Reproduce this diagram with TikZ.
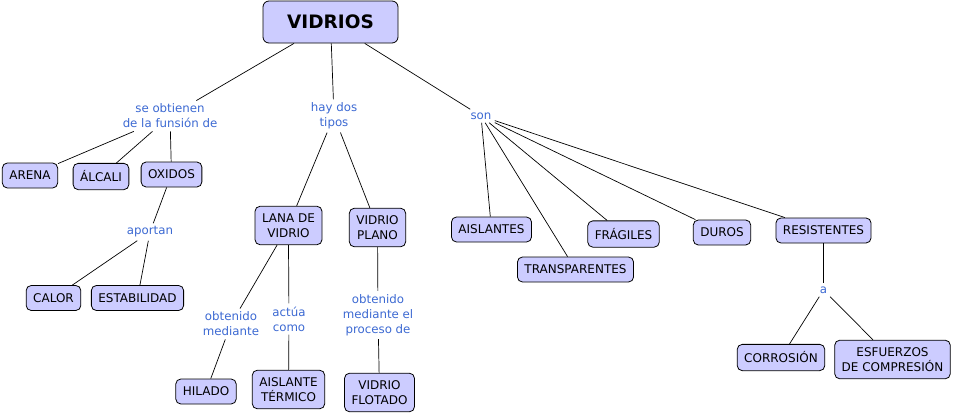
\documentclass[tikz,border=0pt]{standalone}
\usepackage{fontspec}
\setmainfont{DejaVu Sans}
\definecolor{conceptfill}{RGB}{204,204,255}
\definecolor{linkblue}{RGB}{60,105,210}

\begin{document}
\begin{tikzpicture}[x=1pt, y=-1pt,
    concept/.style={draw=black, fill=conceptfill, line width=0.8pt, rounded corners=5pt,
        align=center, inner xsep=7pt, inner ysep=7.5pt, minimum height=25pt,
        font=\fontsize{12}{14.5}\selectfont},
    link/.style={text=linkblue, align=center, inner sep=3pt,
        font=\fontsize{11.8}{15}\selectfont},
    every path/.style={line width=0.7pt}]
    \useasboundingbox (0, 0) rectangle (955, 415);

    % Main concept
    \node[concept, font=\fontsize{18.5}{20}\selectfont\bfseries, minimum width=135pt,
        minimum height=42pt, rounded corners=6pt] (vidrios) at (330.5, 22) {VIDRIOS};

    % Linking phrases (first level)
    \node[link] (obtienen) at (170, 116) {se obtienen\\de la funsión de};
    \node[link] (tipos) at (334, 116) {hay dos\\tipos};
    \node[link] (son) at (481, 116) {son};

    % Components
    \node[concept] (arena) at (30, 175.5) {ARENA};
    \node[concept] (alcali) at (101, 176.5) {ÁLCALI};
    \node[concept] (oxidos) at (171.5, 174.5) {OXIDOS};
    \node[link] (aportan) at (150, 232) {aportan};
    \node[concept] (calor) at (53.5, 298) {CALOR};
    \node[concept] (estabilidad) at (137.5, 298) {ESTABILIDAD};

    % Types
    \node[concept] (lana) at (288.5, 225.5) {LANA DE\\VIDRIO};
    \node[concept] (plano) at (377.5, 227.5) {VIDRIO\\PLANO};
    \node[link] (mediante) at (231, 324) {obtenido\\mediante};
    \node[link] (actua) at (289, 319) {actúa\\como};
    \node[link] (proceso) at (378, 315) {obtenido\\mediante el\\proceso de};
    \node[concept] (hilado) at (206, 391.5) {HILADO};
    \node[concept] (aislante) at (288.5, 389.5) {AISLANTE\\TÉRMICO};
    \node[concept] (flotado) at (379.5, 392.5) {VIDRIO\\FLOTADO};

    % Properties
    \node[concept] (aislantes) at (491.5, 229.5) {AISLANTES};
    \node[concept] (transparentes) at (575.5, 269.5) {TRANSPARENTES};
    \node[concept] (fragiles) at (623.5, 234) {FRÁGILES};
    \node[concept] (duros) at (722, 232.5) {DUROS};
    \node[concept] (resistentes) at (823.5, 230.5) {RESISTENTES};
    \node[link] (contra) at (823.5, 290) {a};
    \node[concept] (corrosion) at (781, 357.5) {CORROSIÓN};
    \node[concept] (esfuerzos) at (892.5, 359.5) {ESFUERZOS\\DE COMPRESIÓN};

    % Connections from the main concept
    \draw (vidrios) -- (obtienen);
    \draw (vidrios) -- (tipos);
    \draw (vidrios) -- (son);

    % Components branch
    \draw (obtienen) -- (arena);
    \draw (obtienen) -- (alcali);
    \draw (obtienen) -- (oxidos);
    \draw (oxidos) -- (aportan);
    \draw (aportan) -- (calor);
    \draw (aportan) -- (estabilidad);

    % Types branch
    \draw (tipos) -- (lana);
    \draw (tipos) -- (plano);
    \draw (lana) -- (mediante);
    \draw (mediante) -- (hilado);
    \draw (lana.south) -- (actua);
    \draw (actua) -- (aislante);
    \draw (plano) -- (proceso);
    \draw (proceso) -- (flotado);

    % Properties branch
    \draw (son) -- (aislantes);
    \draw (son) -- (transparentes);
    \draw (son) -- (fragiles);
    \draw (son) -- (duros);
    \draw (son) -- (resistentes);
    \draw (resistentes) -- (contra);
    \draw (contra) -- (corrosion);
    \draw (contra) -- (esfuerzos);

\end{tikzpicture}
\end{document}
